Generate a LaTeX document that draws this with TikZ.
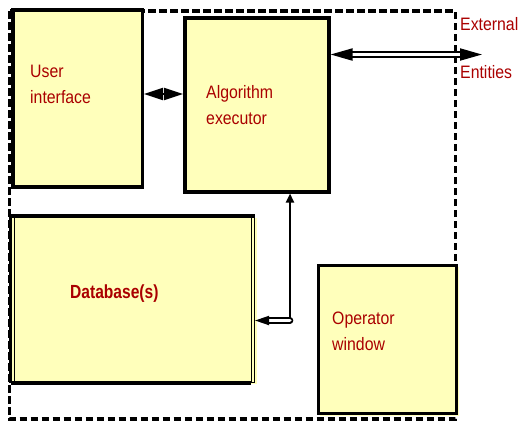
\documentclass[tikz,border=0pt]{standalone}
\usepackage{fontspec}
\newfontfamily\lblfont{Liberation Sans}[FakeStretch=0.88]
\newfontfamily\dbfont{Liberation Sans}[FakeStretch=0.82]
\usetikzlibrary{arrows.meta,shadows}
\definecolor{boxfill}{RGB}{255,255,187}
\definecolor{lblred}{RGB}{170,0,0}
\tikzset{
  solidhead/.tip={Triangle[length=19pt,width=12pt]},
  bighead/.tip={Triangle[length=22pt,width=12pt]},
  smallhead/.tip={Triangle[length=9pt,width=8pt]},
  midhead/.tip={Triangle[length=14pt,width=9pt]}}
\begin{document}
\begin{tikzpicture}[x=1pt,y=-1pt,
  box/.style={draw=black,line width=3.5pt,fill=boxfill,inner sep=0pt,
    anchor=north west,
    drop shadow={shadow xshift=2pt,shadow yshift=-2pt,fill=boxfill,opacity=1}},
  lbl/.style={text=lblred,font=\lblfont\fontsize{18}{26}\selectfont,
    inner sep=0pt,anchor=north west,align=left},
  boundary/.style={draw=black,line width=3.4pt,dash pattern=on 7.5pt off 3.5pt},
  hollow/.style={double=white,double distance=3pt,line width=1.8pt}]
\useasboundingbox (0,0) rectangle (518,421);

% system boundary
\draw[boundary] (9.5,11) rectangle (455.5,419);

% component boxes
\node[box,minimum width=129.5pt,minimum height=177pt] (ui) at (11,8) {};
\node[box,minimum width=144pt,minimum height=174pt] (alg) at (183,16) {};
\node[box,line width=3pt,minimum width=138.5pt,minimum height=148.5pt] (op) at (316.5,263.5) {};

% database box with doubled side rules
\node[draw=black,line width=1pt,fill=boxfill,inner sep=0pt,anchor=north west,
  minimum width=243.5pt,minimum height=166pt,
  drop shadow={shadow xshift=2pt,shadow yshift=-1pt,fill=boxfill,opacity=1}] (db) at (10.5,216) {};
\draw[line width=3.5pt] (db.north west) -- (db.north east);
\draw[line width=3.5pt] (db.south west) -- ([xshift=-4pt]db.south east);
\draw[line width=3.5pt] (db.north west) -- (db.south west);
\draw[line width=1pt] ([xshift=4pt]db.north west) -- ([xshift=4pt]db.south west);
\draw[line width=1pt] ([xshift=-4pt]db.north east) -- ([xshift=-4pt]db.south east);

% labels
\node[lbl] (uitext) at (30,65) {User\\interface};
\node[lbl] (algtext) at (206,85) {Algorithm\\executor};
\node[lbl,font=\dbfont\bfseries\fontsize{19}{26}\selectfont] (dbtext) at (70,285) {Database(s)};
\node[lbl] (optext) at (332,312) {Operator\\window};
\node[lbl] (exttext) at (460,17) {External};
\node[lbl] (enttext) at (460,65) {Entities};

% connectors
\coordinate (ext) at (482,54.5);
\coordinate (bend) at (290,320.5);
\draw[line width=2pt,{solidhead}-{solidhead}] (ui.east |- 0,94) -- (alg.west |- 0,94);
\draw[hollow,{bighead}-{bighead}] (alg.east |- ext) -- (ext);
\draw[line width=2.2pt,line cap=round,-{smallhead}] (bend) -- (bend |- alg.south);
\draw[hollow,line cap=round,-{midhead}] (bend) -- (db.east |- bend);
\end{tikzpicture}
\end{document}
